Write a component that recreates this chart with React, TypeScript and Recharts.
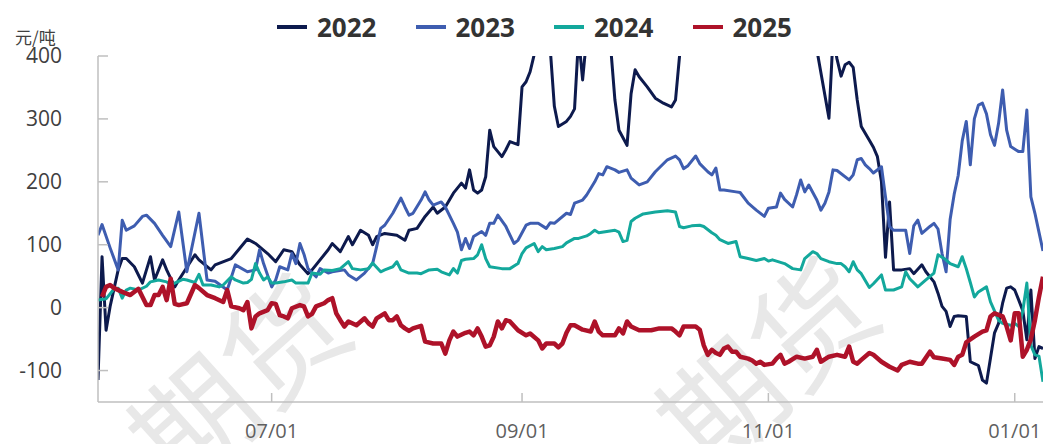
import { LineChart, Line, XAxis, YAxis } from "recharts";

// x = days after 05/19, shared month/day axis for every year
const tickDays = [43, 105, 166, 227];
const tickLabels = ["07/01", "09/01", "11/01", "01/01"];
const yTicks = [-100, 0, 100, 200, 300, 400];

const days2022 = [0, 1, 2, 3, 5, 6, 7, 9, 11, 13, 14, 16, 17, 19, 20, 24, 25, 28, 29, 33, 37, 39, 42, 44, 46, 48, 50, 52, 53, 57, 58, 60, 62, 63, 65, 67, 68, 69, 71, 74, 76, 77, 79, 81, 83, 84, 86, 88, 90, 91, 92, 93, 94, 95, 96, 97, 98, 100, 101, 102, 104, 105, 106, 107, 108, 109, 110, 111, 112, 113, 114, 116, 117, 118, 119, 120, 121, 122, 124, 126, 127, 128, 129, 131, 132, 133, 134, 136, 138, 140, 142, 143, 144, 145, 147, 150, 154, 158, 162, 166, 170, 174, 177, 178, 181, 182, 183, 184, 185, 186, 187, 188, 189, 191, 192, 193, 194, 195, 196, 197, 199, 201, 202, 204, 205, 207, 208, 209, 210, 211, 212, 213, 215, 216, 217, 218, 219, 220, 221, 222, 223, 224, 225, 226, 227, 228, 229, 230, 231, 232, 233, 234];
const vals2022 = [-115, 81, -36, 2, 60, 78, 78, 65, 39, 81, 44, 76, 60, 33, 44, 84, 76, 60, 68, 78, 109, 102, 86, 73, 92, 89, 68, 54, 60, 92, 102, 89, 113, 100, 123, 115, 100, 113, 118, 115, 107, 123, 126, 145, 160, 150, 160, 182, 198, 190, 219, 187, 182, 187, 208, 282, 256, 240, 251, 264, 259, 351, 359, 375, 402, 440, 470, 450, 410, 320, 288, 296, 304, 316, 430, 362, 430, 480, 500, 470, 410, 330, 282, 258, 340, 378, 367, 351, 333, 325, 319, 330, 400, 440, 490, 520, 480, 500, 470, 500, 480, 490, 460, 410, 301, 430, 395, 368, 386, 390, 382, 330, 288, 266, 255, 240, 200, 80, 168, 60, 60, 62, 54, 68, 57, 41, 23, 2, -6, -30, -14, -13, -14, -86, -89, -92, -115, -120, -80, -40, -25, 7, 31, 33, 28, 12, -5, -51, 28, -81, -62, -65];

const days2023 = [0, 1, 3, 5, 6, 7, 9, 11, 12, 14, 16, 18, 20, 22, 25, 27, 29, 32, 34, 37, 39, 40, 41, 43, 44, 45, 47, 48, 49, 50, 51, 52, 54, 55, 57, 58, 61, 62, 64, 66, 68, 69, 70, 71, 73, 75, 76, 77, 78, 80, 81, 82, 83, 85, 86, 88, 89, 90, 91, 92, 93, 95, 96, 97, 98, 99, 101, 103, 104, 106, 107, 109, 111, 112, 113, 116, 117, 118, 120, 121, 123, 124, 125, 126, 128, 129, 131, 132, 134, 136, 138, 141, 143, 144, 145, 146, 148, 149, 151, 152, 153, 154, 155, 158, 159, 161, 163, 165, 166, 168, 169, 170, 172, 173, 174, 175, 176, 178, 179, 180, 181, 182, 183, 186, 187, 188, 189, 190, 191, 192, 194, 195, 196, 197, 200, 201, 202, 203, 204, 206, 207, 208, 209, 210, 211, 212, 213, 214, 215, 216, 217, 218, 219, 220, 221, 222, 223, 224, 225, 226, 228, 229, 230, 231, 232, 233, 234];
const vals2023 = [115, 132, 95, 60, 139, 123, 130, 145, 147, 134, 115, 97, 152, 57, 150, 44, 42, 28, 68, 57, 60, 92, 70, 33, 44, 65, 60, 86, 70, 102, 85, 62, 49, 62, 55, 57, 60, 52, 44, 55, 70, 97, 126, 131, 150, 174, 160, 147, 150, 171, 184, 171, 163, 168, 160, 134, 120, 92, 110, 94, 113, 121, 115, 134, 134, 147, 129, 102, 107, 131, 134, 134, 126, 135, 134, 150, 148, 166, 171, 179, 200, 213, 211, 224, 219, 215, 219, 206, 195, 200, 216, 235, 241, 235, 221, 225, 241, 229, 216, 211, 222, 187, 187, 184, 183, 166, 155, 145, 158, 160, 182, 172, 160, 180, 203, 184, 195, 171, 155, 166, 184, 219, 218, 203, 211, 235, 237, 227, 221, 214, 224, 176, 129, 123, 123, 86, 130, 139, 118, 129, 134, 125, 86, 57, 140, 180, 210, 265, 296, 227, 300, 322, 325, 308, 275, 258, 293, 346, 282, 256, 248, 248, 314, 176, 150, 120, 90];

const days2024 = [0, 2, 4, 5, 6, 7, 8, 10, 12, 13, 15, 17, 18, 19, 21, 22, 24, 25, 26, 28, 30, 31, 33, 34, 36, 37, 38, 39, 40, 41, 42, 43, 44, 46, 48, 49, 52, 53, 55, 56, 58, 60, 62, 63, 65, 67, 68, 70, 71, 73, 74, 75, 77, 79, 80, 82, 84, 85, 87, 88, 89, 90, 91, 93, 94, 95, 96, 97, 100, 102, 104, 105, 106, 108, 109, 110, 111, 113, 115, 116, 118, 119, 121, 122, 123, 124, 126, 128, 129, 130, 131, 132, 133, 135, 138, 141, 143, 144, 145, 147, 149, 150, 152, 153, 154, 156, 158, 159, 161, 163, 165, 166, 167, 170, 172, 174, 175, 177, 178, 179, 181, 183, 184, 185, 186, 187, 188, 189, 191, 192, 194, 195, 197, 199, 200, 201, 203, 205, 207, 208, 210, 211, 213, 214, 215, 216, 217, 218, 220, 221, 223, 224, 226, 227, 228, 229, 230, 231, 232, 233, 234];
const vals2024 = [12, 14, 30, 31, 15, 28, 31, 28, 34, 41, 44, 41, 36, 39, 45, 44, 40, 53, 36, 36, 33, 36, 49, 44, 39, 40, 45, 70, 55, 44, 49, 39, 39, 41, 44, 39, 39, 55, 53, 60, 59, 62, 73, 62, 60, 62, 71, 57, 60, 65, 73, 60, 55, 55, 54, 60, 61, 57, 52, 62, 55, 75, 77, 78, 84, 100, 78, 65, 62, 62, 70, 86, 95, 102, 89, 97, 92, 94, 97, 103, 110, 110, 114, 118, 123, 119, 121, 123, 120, 105, 107, 137, 142, 149, 152, 154, 152, 129, 127, 130, 131, 129, 119, 115, 108, 102, 105, 81, 78, 75, 78, 74, 76, 70, 62, 60, 78, 89, 86, 78, 73, 70, 70, 65, 57, 73, 60, 54, 32, 38, 52, 28, 28, 33, 57, 46, 33, 44, 55, 84, 76, 70, 65, 81, 62, 40, 17, 25, 33, 9, -20, -25, -28, -25, -30, -5, 39, -60, -75, -77, -118];

const days2025 = [1, 2, 3, 4, 6, 8, 10, 12, 13, 14, 15, 16, 17, 18, 19, 20, 22, 24, 25, 27, 29, 31, 32, 33, 35, 36, 37, 38, 39, 40, 42, 43, 44, 45, 46, 47, 48, 50, 51, 52, 53, 54, 56, 57, 58, 59, 60, 61, 62, 64, 66, 67, 68, 69, 71, 72, 73, 74, 75, 76, 77, 78, 80, 81, 83, 85, 86, 87, 88, 89, 91, 92, 93, 94, 95, 96, 97, 98, 99, 100, 101, 102, 104, 106, 107, 109, 110, 111, 113, 114, 115, 116, 117, 118, 120, 122, 123, 124, 125, 128, 129, 130, 131, 132, 134, 137, 139, 142, 143, 144, 145, 148, 149, 150, 151, 152, 153, 154, 155, 156, 157, 158, 159, 161, 162, 163, 164, 165, 167, 168, 169, 170, 171, 173, 175, 177, 178, 179, 181, 183, 185, 186, 187, 188, 189, 191, 192, 194, 196, 198, 199, 201, 203, 204, 206, 207, 209, 211, 212, 213, 214, 215, 217, 219, 220, 221, 222, 224, 225, 226, 227, 228, 229, 230, 231, 232, 233, 234];
const vals2025 = [17, 33, 36, 31, 25, 20, 30, 4, 4, 20, 20, 33, 12, 46, 6, 4, 7, 36, 31, 20, 15, 9, 28, 2, -1, -4, 9, -33, -14, -9, -4, 7, 6, -12, -14, -17, -1, 4, 2, -14, -10, 2, 7, 12, 15, -9, -20, -30, -22, -28, -17, -25, -30, -17, -9, -20, -20, -14, -28, -33, -37, -33, -29, -54, -57, -57, -73, -52, -38, -46, -40, -38, -44, -33, -46, -62, -60, -46, -22, -33, -20, -22, -36, -44, -41, -52, -65, -57, -57, -63, -57, -40, -28, -28, -35, -38, -22, -38, -44, -44, -33, -41, -22, -30, -36, -36, -33, -33, -38, -44, -30, -30, -35, -60, -75, -67, -72, -75, -65, -62, -70, -70, -78, -81, -84, -89, -86, -91, -89, -81, -75, -89, -86, -78, -81, -78, -67, -86, -78, -75, -78, -62, -86, -89, -83, -72, -75, -86, -94, -100, -91, -86, -89, -89, -70, -79, -81, -83, -91, -78, -75, -55, -46, -38, -36, -14, -9, -14, -30, -52, -9, -9, -78, -67, -50, -20, 17, 49];

const toPoints = (days: number[], vals: number[]) =>
  days.map((d, i) => ({ d, v: vals[i] }));

const series = [
  { name: "2022", color: "#0d1a4d", width: 3, data: toPoints(days2022, vals2022) },
  { name: "2023", color: "#3e5db0", width: 3, data: toPoints(days2023, vals2023) },
  { name: "2024", color: "#13a89c", width: 3, data: toPoints(days2024, vals2024) },
  { name: "2025", color: "#ae1229", width: 4.5, data: toPoints(days2025, vals2025) },
];

const FONT = "'Open Sans', 'Noto Sans', sans-serif";
const CJK = "'Noto Sans CJK SC', sans-serif";

function Watermark() {
  const marks = [
    { x: 180, y: 495 },
    { x: 708, y: 478 },
  ];
  return (
    <svg
      width={1043}
      height={444}
      style={{ position: "absolute", left: 0, top: 0 }}
    >
      {marks.map((m, i) => (
        <text
          key={i}
          x={m.x}
          y={m.y}
          fontSize={120}
          fontFamily={CJK}
          fill="#e8e8e8"
          transform={`rotate(-42 ${m.x} ${m.y})`}
        >
          期货
        </text>
      ))}
    </svg>
  );
}

function LegendRow() {
  return (
    <div
      style={{
        position: "absolute",
        left: 277,
        top: 10,
        height: 34,
        display: "flex",
        alignItems: "center",
      }}
    >
      {series.map((s) => (
        <div
          key={s.name}
          style={{ width: 138.5, display: "flex", alignItems: "center" }}
        >
          <div style={{ width: 30, height: 4, background: s.color }} />
          <span
            style={{
              marginLeft: 10,
              fontFamily: FONT,
              fontWeight: 700,
              fontSize: 26,
              color: "#333333",
              lineHeight: 1,
            }}
          >
            {s.name}
          </span>
        </div>
      ))}
    </div>
  );
}

export default function App() {
  return (
    <div
      style={{
        position: "absolute",
        left: 0,
        top: 0,
        width: 1043,
        height: 444,
        background: "#ffffff",
        overflow: "hidden",
      }}
    >
      <Watermark />
      <div style={{ position: "absolute", left: 0, top: 0 }}>
        <LineChart
          width={1043}
          height={444}
          margin={{ top: 56, right: 0, bottom: 0, left: 0 }}
        >
          <XAxis
            dataKey="d"
            type="number"
            domain={[0, 234]}
            allowDataOverflow
            ticks={tickDays}
            tickFormatter={(d: number) => tickLabels[tickDays.indexOf(d)]}
            height={42}
            stroke="#bfbfbf"
            strokeWidth={1.5}
            tickSize={-9}
            tickMargin={31}
            tick={{ fill: "#5f5f5f", fontSize: 20, fontFamily: FONT }}
          />
          <YAxis
            type="number"
            domain={[-150, 400]}
            allowDataOverflow
            ticks={yTicks}
            width={98}
            stroke="#bfbfbf"
            strokeWidth={1.5}
            tickSize={-10}
            tickMargin={46}
            tick={{ fill: "#404040", fontSize: 21, fontFamily: FONT }}
          />
          {series.map((s) => (
            <Line
              key={s.name}
              data={s.data}
              dataKey="v"
              name={s.name}
              type="linear"
              stroke={s.color}
              strokeWidth={s.width}
              strokeLinejoin="round"
              dot={false}
              activeDot={false}
              isAnimationActive={false}
            />
          ))}
        </LineChart>
      </div>
      <div
        style={{
          position: "absolute",
          left: 15,
          top: 28,
          fontFamily: CJK,
          fontSize: 17,
          color: "#404040",
          lineHeight: 1,
        }}
      >
        元/吨
      </div>
      <LegendRow />
    </div>
  );
}
